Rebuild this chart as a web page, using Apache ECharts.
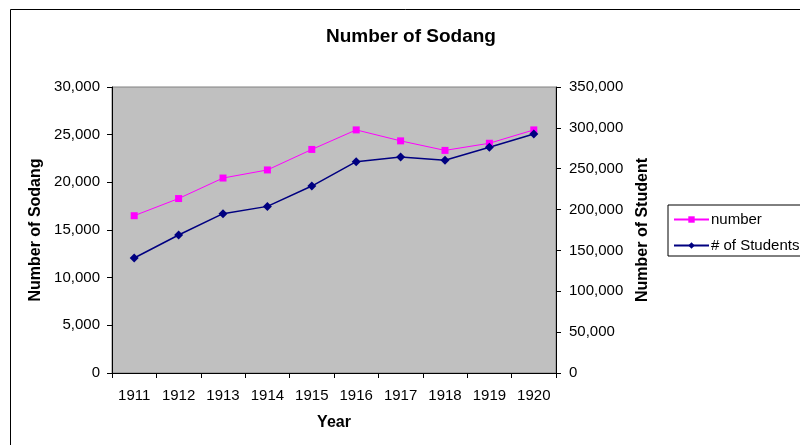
<!DOCTYPE html>
<html>
<head>
<meta charset="utf-8">
<script src="https://cdn.jsdelivr.net/npm/echarts@6/dist/echarts.min.js"></script>
<style>
    html, body {margin: 0; padding: 0; background: #fff;}
    #chart {width: 800px; height: 445px;}
</style>
</head>
<body>
<div id="chart"></div>
<script>
const years = ['1911', '1912', '1913', '1914', '1915', '1916', '1917', '1918', '1919', '1920'];
const sodangNumber = [16500, 18300, 20450, 21300, 23450, 25500, 24350, 23350, 24100, 25500];
const studentNumber = [140700, 168900, 195000, 203900, 228800, 258600, 264300, 260300, 276200, 292500];

const font = 'Liberation Sans, Arial, sans-serif';

function fmt(v) {
    return v.toLocaleString('en-US');
}

const chartDom = document.getElementById('chart');
const myChart = echarts.init(chartDom);

const option = {
    animation: false,
    backgroundColor: '#fff',
    textStyle: {fontFamily: font},
    title: {
        text: 'Number of Sodang',
        left: 406,
        textAlign: 'center',
        top: 22,
        textStyle: {fontSize: 19, fontWeight: 'bold', color: '#000', fontFamily: font}
    },
    graphic: [
        {
            type: 'rect',
            shape: {x: 10.5, y: 9.5, width: 820, height: 460},
            style: {fill: 'none', stroke: '#000', lineWidth: 1},
            silent: true
        }
    ],
    legend: {
        orient: 'vertical',
        left: 668,
        top: 205,
        padding: [7, 30, 3, 5],
        itemWidth: 35,
        itemHeight: 8,
        itemGap: 11,
        borderColor: '#000',
        borderWidth: 1,
        textStyle: {fontSize: 15, color: '#000', fontFamily: font, padding: [0, 0, 0, -3]},
        data: ['number', '# of Students']
    },
    grid: {
        left: 112,
        right: 244,
        top: 87,
        bottom: 72,
        show: true,
        backgroundColor: '#C0C0C0',
        borderColor: '#808080',
        borderWidth: 1
    },
    xAxis: {
        type: 'category',
        data: years,
        boundaryGap: true,
        name: 'Year',
        nameLocation: 'middle',
        nameGap: 42,
        nameTextStyle: {fontSize: 16, fontWeight: 'bold', color: '#000', fontFamily: font},
        axisLine: {lineStyle: {color: '#000', width: 1}},
        axisTick: {show: true, length: 5, alignWithLabel: false, lineStyle: {color: '#000'}},
        axisLabel: {fontSize: 15, color: '#000', margin: 15, fontFamily: font},
        splitLine: {show: false}
    },
    yAxis: [
        {
            type: 'value',
            min: 0,
            max: 30000,
            interval: 5000,
            position: 'left',
            name: 'Number of Sodang',
            nameLocation: 'middle',
            nameGap: 68,
            nameTextStyle: {fontSize: 16, fontWeight: 'bold', color: '#000', fontFamily: font},
            axisLine: {show: true, lineStyle: {color: '#000', width: 1}},
            axisTick: {show: true, length: 5, lineStyle: {color: '#000'}},
            axisLabel: {fontSize: 15, color: '#000', margin: 12, formatter: fmt, fontFamily: font},
            splitLine: {show: false}
        },
        {
            type: 'value',
            min: 0,
            max: 350000,
            interval: 50000,
            position: 'right',
            name: 'Number of Student',
            nameLocation: 'middle',
            nameGap: 76,
            nameRotate: 90,
            nameTextStyle: {fontSize: 16, fontWeight: 'bold', color: '#000', fontFamily: font},
            axisLine: {show: true, lineStyle: {color: '#000', width: 1}},
            axisTick: {show: true, length: 5, lineStyle: {color: '#000'}},
            axisLabel: {fontSize: 15, color: '#000', margin: 13, formatter: fmt, fontFamily: font},
            splitLine: {show: false}
        }
    ],
    series: [
        {
            name: 'number',
            type: 'line',
            yAxisIndex: 0,
            data: sodangNumber,
            symbol: 'rect',
            symbolSize: 7,
            itemStyle: {color: '#FF00FF'},
            lineStyle: {color: '#FF00FF', width: 1}
        },
        {
            name: '# of Students',
            type: 'line',
            yAxisIndex: 1,
            data: studentNumber,
            symbol: 'diamond',
            symbolSize: 9,
            itemStyle: {color: '#000080'},
            lineStyle: {color: '#000080', width: 1.5}
        }
    ]
};

option && myChart.setOption(option);
</script>
</body>
</html>
